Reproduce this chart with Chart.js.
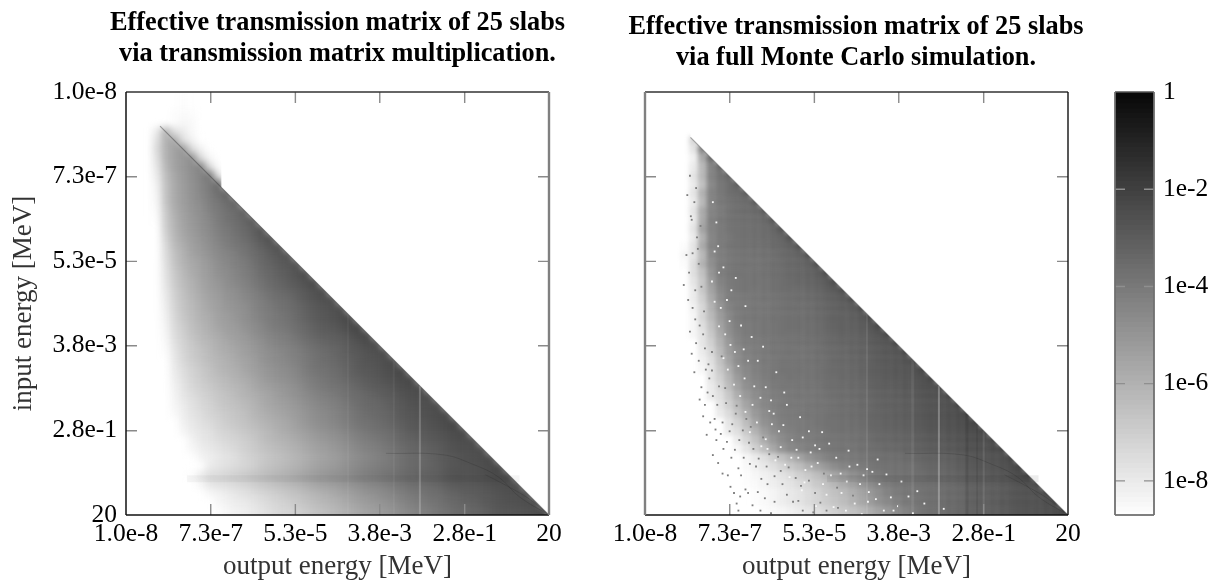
<!DOCTYPE html>
<html><head><meta charset="utf-8">
<style>html,body{margin:0;padding:0;background:#fff;width:1216px;height:583px;overflow:hidden}canvas{position:absolute;top:0}</style>
<script src="https://cdn.jsdelivr.net/npm/chart.js@4"></script>
</head><body>
<canvas id="cLeft" width="675" height="583" style="left:0;width:675px;height:583px"></canvas>
<canvas id="cRight" width="512" height="583" style="left:600px;width:512px;height:583px"></canvas>
<canvas id="cBar" width="116" height="583" style="left:1100px;width:116px;height:583px"></canvas>
<script>
const energyTicks=[1e-8,7.3e-7,5.3e-5,3.8e-3,2.8e-1,20];
const energyTickLabels=["1.0e-8","7.3e-7","5.3e-5","3.8e-3","2.8e-1","20"];
const titleLeft=["Effective transmission matrix of 25 slabs","via transmission matrix multiplication."];
const titleRight=["Effective transmission matrix of 25 slabs","via full Monte Carlo simulation."];
const colorbarTicks=[1,1e-2,1e-4,1e-6,1e-8];
const colorbarTickLabels=["1","1e-2","1e-4","1e-6","1e-8"];
const colorbarLevels=[0,1,2,3,4,5,6,7,8,9,10,11,12,13,14,15,16,17,18,19,20,21,22,23,24,25,26,27,28,29,30,31,32,33,34,35,36,37,38,39,40,41,42,43,44,45,46,47,48,49,50,51,52,53,54,55,56,57,58,59,60,61,62,63,64,65,66,67,68,69,70,71,72,73,74,75,76,77,78,79,80,81,82,83,84,85,86];
// cell values are -10*log10(T); rows run from the lowest input energy down, first column index in *RowStart
const leftRowStart=[5,5,5,5,3,3,3,3,3,3,3,3,3,3,3,3,3,3,3,4,4,4,4,4,4,4,4,4,4,4,4,4,5,5,5,5,5,6,6,7,7,8,9,7,8,9,9,10];
const leftRows=[
[85,84,85],[85,84,85],[84,83,84],[84,82,83,86],
[78,58,74,78,83],[74,58,54,74,80,85],[72,58,52,48,72,80,86],[74,58,52,48,44,72,82],
[76,60,52,48,44,40,72,84],[78,62,54,49,45,41,36,76],[80,64,55,50,46,42,38,32],[81,64,55,50,46,42,38,34,28],
[82,64,55,50,46,43,39,36,32,28],[83,66,56,51,47,44,40,37,34,31,27],[84,67,58,52,48,45,42,38,35,32,29,25],
[85,68,59,53,49,46,43,40,37,34,31,28,24],[85,70,60,54,50,47,44,41,38,35,32,29,26,23],
[86,72,61,56,51,48,45,42,39,36,34,31,28,25,22],[86,73,63,57,52,49,46,43,41,38,35,32,30,27,24,22],
[74,64,58,54,51,48,45,42,39,37,34,31,29,26,24,22],[75,66,60,55,52,49,46,44,41,38,36,33,31,28,26,23,21],
[76,67,61,57,53,50,48,45,42,40,37,35,32,30,27,25,23,21],[77,68,62,58,54,51,49,46,44,41,39,36,34,31,29,27,25,23,21],
[78,69,63,59,55,52,50,47,45,42,40,38,35,33,31,28,26,24,22,20],[79,70,64,60,56,53,51,48,46,44,41,39,37,34,32,30,28,26,24,22,20],
[80,71,65,61,57,55,52,50,47,45,42,40,38,36,34,31,29,27,25,23,21,20],[81,72,67,62,59,56,53,51,49,46,44,42,39,37,35,33,31,29,27,25,23,21,20],
[82,73,68,63,60,57,55,52,50,48,45,43,41,39,37,34,32,30,28,27,25,23,21,20],[83,74,69,65,61,59,56,54,51,49,47,45,42,40,38,36,34,32,30,28,27,25,23,21,20],
[84,76,70,66,63,60,57,55,53,50,48,46,44,42,40,38,36,34,32,30,28,26,25,23,21,20],[85,77,71,67,64,61,59,57,54,52,50,47,45,43,41,39,37,35,33,31,29,28,26,24,23,21,20],
[86,78,73,69,66,63,60,58,56,53,51,49,47,45,43,41,38,36,35,33,31,29,27,26,24,22,21,20],[79,74,70,67,64,62,60,57,55,53,50,48,46,44,42,40,38,36,34,32,30,29,27,25,23,22,21,20],
[80,75,71,68,66,63,61,59,57,54,52,50,48,46,44,41,39,37,35,34,32,30,28,26,25,23,22,21,20],[81,76,73,70,67,65,63,60,58,56,54,52,49,47,45,43,41,39,37,35,33,32,30,28,26,25,23,22,21,20],
[82,78,74,71,69,66,64,62,60,58,55,53,51,49,47,45,43,41,39,37,35,33,31,30,28,26,25,23,22,21,20],[83,79,75,73,70,68,66,64,62,59,57,55,53,51,49,47,45,43,41,39,37,35,33,31,30,28,26,25,23,22,21,20],
[80,77,74,72,70,67,65,63,61,59,57,55,53,50,48,46,44,42,40,38,36,35,33,31,29,28,26,25,23,22,21,20],[82,78,76,74,71,69,67,65,63,61,59,56,54,52,50,48,46,44,42,40,38,36,34,33,31,29,27,26,24,23,22,21,20],
[80,77,75,73,71,69,67,65,62,60,58,56,54,52,50,48,46,44,42,40,38,36,34,32,30,29,27,25,24,23,22,21,20],[82,79,77,75,73,71,68,66,64,62,60,58,56,54,52,50,48,46,44,42,40,38,36,34,32,30,29,27,26,24,23,22,21,20],
[81,79,77,75,73,70,68,66,64,62,60,58,56,54,52,50,48,46,44,42,40,38,36,34,32,31,29,27,26,25,23,22,21,20],[78,76,74,72,70,68,65,63,61,59,57,55,53,51,49,47,45,43,41,39,37,36,34,32,31,29,28,26,25,24,23,22,21,20],
[84,78,73,72,70,68,66,64,62,60,58,56,54,52,50,48,46,45,43,41,39,37,35,34,32,31,29,28,27,25,24,24,23,22,21,21,20],[82,76,74,73,71,69,67,65,63,61,59,57,55,53,51,49,47,46,44,42,40,38,36,35,33,32,30,29,27,26,25,24,23,22,22,21,20],
[82,80,78,76,74,72,70,68,66,64,62,60,58,56,54,52,50,48,46,44,42,40,38,36,35,33,32,30,29,27,26,25,24,23,22,21,20],[85,82,80,78,77,75,73,71,69,67,65,63,61,59,57,55,53,51,49,47,45,43,41,39,37,35,34,32,31,29,28,26,25,24,23,22,21,20],
[84,82,80,79,77,75,73,71,70,68,66,64,62,60,58,56,54,52,50,48,46,44,42,40,38,36,35,33,32,30,29,27,26,25,24,23,22,21]];
const rightFirstRow=5;
const rightRowStart=[5,5,5,5,5,5,5,5,5,5,5,5,4,4,4,5,5,5,5,5,5,5,5,6,6,6,6,7,7,7,8,8,9,9,10,10,11,11,11,10,10,11,12];
const rightRows=[
[74],[78,52],[82,62,42],[80,66,50,40],[78,66,50,44,38],[80,68,52,46,42,36],[78,64,50,46,42,40,34],[80,66,50,46,44,42,40,32],
[78,62,50,47,44,42,40,38,32],[80,62,49,46,44,43,42,40,38,30],[78,60,50,47,45,44,43,41,40,37,29],[80,64,51,47,46,44,43,42,40,39,36,28],
[86,78,62,50,47,45,44,43,42,41,39,38,35,27],[84,78,66,52,48,46,45,44,43,42,41,39,37,34,26],[86,76,64,54,48,46,45,44,44,43,41,40,38,36,33,25],
[76,68,56,48,46,45,45,44,43,42,41,39,37,35,32,25],[78,70,58,50,47,46,45,44,44,43,42,40,38,36,34,31,24],[80,70,60,52,48,46,45,45,44,43,42,41,40,38,36,33,30,24],
[80,72,62,54,48,47,46,45,44,44,43,42,40,39,37,35,33,30,23],[82,74,64,56,50,47,46,45,45,44,43,42,41,40,38,36,34,32,29,23],[84,74,66,58,52,48,46,45,45,44,44,43,42,40,39,37,35,34,32,29,22],
[84,76,68,60,54,49,47,46,45,45,44,43,42,41,40,38,36,34,33,31,28,22],[84,78,70,62,55,50,47,46,45,45,44,44,43,41,40,39,37,35,34,32,30,27,22],
[78,72,64,57,51,48,47,46,45,45,44,43,42,41,39,38,36,34,33,31,29,27,21],[80,74,66,58,53,49,47,46,45,45,44,44,43,41,40,39,37,35,33,32,30,28,26,21],
[82,76,68,60,54,50,48,46,46,45,45,44,43,42,41,39,38,36,34,33,31,29,27,25,21],[84,78,70,63,56,52,49,47,46,45,45,44,44,43,41,40,39,37,35,33,32,30,28,27,25,21],
[78,72,65,58,53,50,48,46,46,45,45,44,43,42,41,39,38,36,34,33,31,29,28,26,24,21],[80,74,67,60,55,51,49,47,46,46,45,44,44,42,41,40,38,37,35,33,32,30,28,27,25,24,21],
[80,76,70,63,57,53,50,48,47,46,45,45,44,43,42,40,39,37,36,34,33,31,29,28,26,25,23,20],
[78,72,66,60,55,51,49,47,46,46,45,44,44,43,41,40,38,37,35,33,32,30,29,27,26,24,23,20],[80,75,69,63,57,53,50,48,47,46,45,45,44,43,42,40,39,37,36,34,32,31,29,28,26,25,23,22,20],
[78,73,67,60,55,52,49,48,47,46,45,44,44,43,41,40,38,37,35,33,32,30,29,27,26,24,23,22,20],[80,76,70,64,58,54,51,49,47,46,46,45,44,43,42,41,39,38,36,34,33,31,30,28,27,25,24,23,22,20],
[80,74,68,62,57,53,50,48,47,46,45,45,44,43,41,40,38,37,35,34,32,31,29,28,26,25,24,23,22,20],[84,78,72,67,61,56,52,50,48,47,46,45,44,44,42,41,40,38,37,35,33,32,30,29,27,26,25,24,23,21,20],
[84,80,76,72,68,64,60,56,53,50,48,47,46,45,44,43,42,41,39,38,36,35,33,32,30,29,27,26,25,23,20],
[85,82,79,76,73,70,67,63,60,57,54,51,49,47,46,45,44,43,42,41,39,37,36,34,32,31,29,27,26,24,22,20],
[86,84,82,80,77,75,72,70,67,64,61,58,55,52,49,47,45,44,43,42,41,39,38,36,35,33,32,30,28,27,25,22,20],
[87,86,85,83,81,79,77,75,73,70,68,65,62,59,56,53,50,47,45,44,43,42,41,39,38,36,34,33,31,30,28,27,25,23,21],
[87,87,86,85,83,81,79,77,75,73,70,68,66,63,60,57,54,50,47,45,44,43,41,40,38,37,35,33,32,30,29,27,26,25,23,21,20],
[87,86,85,83,81,79,77,75,73,71,69,67,64,61,58,55,52,49,46,45,43,42,40,38,37,35,33,32,30,28,27,26,25,24,22,21],
[87,86,85,84,82,80,78,76,74,72,70,68,66,63,60,57,53,50,47,45,43,41,39,38,36,35,33,32,30,29,27,26,25,23,22,21]];
const mcGraySpecks=[[4.6,9],[5.1,12],[4.8,14],[5.4,16],[4.2,18],[4.5,20],[5.6,19],[5.2,22],[4.9,24],[5.7,26],[5.3,28],[6.1,27],[5.6,30],[6.4,31],[5.9,33],[6.8,32],[7.2,34],[6.3,35],[7.7,35],[6.9,37],[8.3,37],[7.6,39],[9.1,38],[8.4,40],[10.2,39],[9.3,41],[10.7,41],[11.8,40],[8.9,43],[10.4,43],[12.1,42],[13.3,42],[9.6,45],[11.2,45],[13.4,44],[15.1,44],[10.1,47],[12.6,47],[14.2,46],[16.3,46],[17.4,47],[18.8,45],[20.1,47],[14.9,42.5],[16.6,43.3],[11.5,37.5],[9.8,36],[12.9,38.7],[7.1,29],[8.2,29.5],
[4.3,11.2],[4.7,13.6],[5.3,10.4],[5.8,14.7],[5.5,17.3],[4.9,17.8],[3.9,21.4],[4.4,23.1],[5.9,21.6],[5.2,25.3],[4.6,26.7],[6.2,24.4],[4.8,29.2],[6.3,28.6],[5.1,31.3],[7.1,31.1],[5.7,34.4],[6.6,33.6],[7.9,32.9],[6.1,36.3],[7.4,36.6],[8.7,34.8],[6.5,38.4],[8.1,38.3],[9.4,37.2],[7.2,40.7],[8.8,39.2],[10.6,37.9],[7.8,41.6],[9.7,40.1],[11.3,39.3],[12.4,41.1],[8.3,42.8],[10.1,42.2],[11.4,41.7],[13.6,40.6],[14.2,43.1],[9.2,44.3],[10.9,44.6],[12.7,43.4],[15.8,42.1],[17.2,44.2],[9.9,46.2],[11.7,46.4],[13.1,45.6],[15.6,45.2],[18.1,43.6],[19.4,46.1],[21.3,44.4],[11.1,47.6],[13.8,47.3],[15.4,47.6],[18.6,47.2],[21.4,46.7],[23.1,45.3],[16.9,45.9],[19.8,42.8],[14.6,40.9],[12.3,44.9],[10.3,45.4],[7.5,37.8],[6.7,30.4],[8.6,33.1],[9.9,35.1],[11,36.6]];
const mcWhiteSpecks=[[7.2,12],[7.8,17],[7.1,21],[8.1,24],[9.3,22],[8.6,27],[9.7,29],[10.4,26],[8.9,31],[10.8,32],[12.3,30],[10.3,34],[11.7,35],[13.2,33],[12.2,37],[14.1,36],[15.6,35],[14.7,38],[16.2,39],[13.4,40],[18.1,38],[16.9,41],[19.3,40],[21.2,41],[18.4,42],[20.6,43],[22.7,42],[24.3,43],[19.7,44],[21.8,45],[23.9,44],[26.1,44],[27.4,45.5],[22.3,47],[24.8,46],[26.6,47],[28.2,46.5],[29.9,47.3],[25.3,42.6],[17.3,44.7],[15.4,41.8],[11.2,30],[9.1,25.5],[7.9,20],[13.8,34.5],
[7.6,14.3],[8.4,19.4],[7.4,23.3],[9.8,20.6],[7.9,26.1],[10.9,23.8],[9.2,28.2],[11.6,27.3],[8.4,29.7],[10.1,30.6],[12.9,28.4],[9.6,32.7],[11.9,32.9],[14.4,31.3],[10.9,35.8],[13.6,35.7],[15.3,33.6],[11.4,38.1],[13.2,38.9],[15.2,37.3],[17.1,36.4],[12.7,39.7],[14.9,39.8],[17.4,38.7],[19.6,38.1],[14.3,41.3],[16.1,41],[18.3,40.4],[20.4,39.4],[22.6,40.2],[15.9,43.2],[17.7,42.4],[19.1,41.6],[21.7,42.8],[23.6,41.8],[25.9,41.2],[17.6,43.8],[20.1,45.2],[22.4,43.7],[24.9,44.9],[26.9,42.9],[28.6,43.7],[18.9,46.5],[20.9,46.6],[23.3,46.2],[25.7,45.7],[27.7,47],[29.4,45.4],[31.2,46.2],[19.2,47.7],[21.6,47.8],[24.1,47.4],[28.9,47.8],[31.8,47.6],[33.4,46.8],[16.7,40.1],[12.6,34.2],[10.7,28.7],[8.8,23.1],[7.4,17.6],[13.9,37.2],[18.8,39.6],[24.7,42.3],[30.4,44.8]];
// MeV positions of the thin features
const leftStripes=[[2.9e-2,"rgba(255,255,255,0.2)",2],[7.6e-4,"rgba(255,255,255,0.04)",2],[7.7e-3,"rgba(255,255,255,0.05)",2]];
const rightStripes=[[2.9e-2,"rgba(255,255,255,0.28)",2],[7.7e-3,"rgba(255,255,255,0.08)",3],[7.6e-4,"rgba(255,255,255,0.08)",2],[0.12,"rgba(0,0,0,0.1)",3],[0.2,"rgba(0,0,0,0.08)",2],[0.28,"rgba(255,255,255,0.1)",2]];
const curveA=[{x:5.2e-3,y:0.88},{x:9.5e-2,y:0.95},{x:0.42,y:1.53},{x:1.53,y:2.9},{x:4.5,y:8},{x:20,y:20}];
const curveB=[{x:0.8,y:2.6},{x:2.3,y:4.5},{x:6.9,y:8.5},{x:20,y:20}];
const leftBand=[{x:2.2e-7,y:3.2},{x:4.5,y:3.2}];
const rightBand=[{x:1e-4,y:3.2},{x:4.5,y:3.2}];
const leftApex=5.6e-8, rightApex=1e-7;
const leftSmearCorner=1.25e-6;

const E_MIN=1e-8,E_MAX=20,GRID=48;
const edge=i=>E_MIN*Math.pow(E_MAX/E_MIN,(i+0.5)/GRID);
const gray=v=>{const g=Math.min(255,Math.round(8+247*v/87));return `rgb(${g},${g},${g})`;};
const calLeft=v=>v+2;
const calRight=v=>v<=55?(v<=22?v+2:v+2-Math.min(9,(v-22)*0.4)):(v>=77?v:v-7*(77-v)/22);
function cells(rows,starts,first,cal){const out=[];rows.forEach((r,i)=>{r.forEach((v,k)=>{out.push({x:edge(starts[i]+k),y:edge(first+i),v:cal(v)});});});return out;}
const specks=list=>list.map(p=>({x:edge(p[0]),y:edge(p[1])}));
const SERIF='"Liberation Serif","DejaVu Serif",serif';

function framePlugin(leftCol,rightCol){return{id:'frame',afterDraw(c){
 const {left:l,right:r,top:t,bottom:b}=c.chartArea,ctx=c.ctx,xs=c.scales.x,ys=c.scales.y;ctx.save();
 ctx.strokeStyle='#8a8a8a';ctx.lineWidth=1.4;ctx.beginPath();
 energyTicks.slice(1,5).forEach(v=>{const p=xs.getPixelForValue(v),q=ys.getPixelForValue(v);
  ctx.moveTo(p,t);ctx.lineTo(p,t+11);ctx.moveTo(p,b);ctx.lineTo(p,b-11);ctx.moveTo(l,q);ctx.lineTo(l+11,q);ctx.moveTo(r,q);ctx.lineTo(r-11,q);});
 ctx.stroke();
 const seg=(x1,y1,x2,y2,col,w)=>{ctx.strokeStyle=col;ctx.lineWidth=w;ctx.beginPath();ctx.moveTo(x1,y1);ctx.lineTo(x2,y2);ctx.stroke();};
 seg(l,t,r,t,'#333',1.3);seg(l,b,r,b,'#111',1.5);seg(l,t,l,b,leftCol[0],leftCol[1]);seg(r,t,r,b,rightCol[0],rightCol[1]);
 ctx.restore();}};}
// softens the rendered cells and trims them along the output=input diagonal
function softenPlugin(corner,sigma){return{id:'soften',
 afterDatasetDraw(c,a){if(c.data.datasets[a.index].label!=='cells')return;
  const X=c.scales.x,Y=c.scales.y,ctx=c.ctx,A=c.chartArea,w=Math.round(A.width),h=Math.round(A.height),pad=24;
  const tmp=document.createElement('canvas');tmp.width=w+2*pad;tmp.height=h+2*pad;const t=tmp.getContext('2d');
  t.drawImage(c.canvas,A.left,A.top,w,h,pad,pad,w,h);
  t.drawImage(c.canvas,A.left,A.bottom-1,w,1,pad,pad+h,w,pad);
  ctx.clearRect(A.left,A.top,w,h);
  ctx.save();ctx.beginPath();
  ctx.moveTo(X.getPixelForValue(E_MIN),Y.getPixelForValue(E_MIN));
  ctx.lineTo(X.getPixelForValue(corner),Y.getPixelForValue(E_MIN));
  ctx.lineTo(X.getPixelForValue(corner),Y.getPixelForValue(corner));
  ctx.lineTo(X.getPixelForValue(E_MAX),Y.getPixelForValue(E_MAX));
  ctx.lineTo(X.getPixelForValue(E_MIN),Y.getPixelForValue(E_MAX));
  ctx.closePath();ctx.clip();
  ctx.filter=`blur(${sigma}px)`;ctx.drawImage(tmp,A.left-pad,A.top-pad);ctx.filter='none';ctx.restore();}};}
const lineDs=(data,color,width,order,tension=0)=>({type:'scatter',showLine:true,data,borderColor:color,borderWidth:width,pointRadius:0,order,fill:false,label:'line',tension});
const dotDs=(data,color,order)=>({type:'scatter',data,order,label:'speck',pointStyle:'rect',pointRadius:1.3,pointBorderWidth:0,borderWidth:0,pointBackgroundColor:color});
function panel(id,cfg){
 const stripes=cfg.stripes.map(s=>lineDs([{x:s[0],y:s[0]},{x:s[0],y:E_MAX}],s[1],s[2],2));
 return new Chart(document.getElementById(id),{type:'scatter',
  data:{datasets:[
   {label:'cells',data:cfg.cells,order:10,pointStyle:'rect',pointRadius:6.4,pointHoverRadius:6.4,pointBorderWidth:0,borderWidth:0,
    pointBackgroundColor:c=>gray(c.raw.v)},
   ...cfg.extra,
   ...stripes,
   lineDs(cfg.band,cfg.bandColor,7,3),
   lineDs(curveA,'rgba(30,30,30,0.2)',1,1,0.4),
   lineDs(curveB,'rgba(30,30,30,0.2)',1,1,0.4),
   lineDs([{x:cfg.apex,y:cfg.apex},{x:E_MAX,y:E_MAX}],'rgba(40,40,40,0.4)',1.1,1)
  ]},
  plugins:[softenPlugin(cfg.corner,cfg.sigma),framePlugin(cfg.leftEdge,cfg.rightEdge)],
  options:{responsive:false,animation:false,events:[],
   plugins:{legend:{display:false},tooltip:{enabled:false},
    title:{display:true,text:cfg.title,color:'#000',font:{family:SERIF,size:26.3,weight:'bold',lineHeight:1.2},padding:{top:cfg.titleTop,bottom:92-63.12-cfg.titleTop}}},
   scales:{
    x:{type:'logarithmic',min:E_MIN,max:E_MAX,border:{display:false},grid:{display:false,drawTicks:false},
     afterBuildTicks:s=>{s.ticks=energyTicks.map(v=>({value:v}));},
     afterFit:s=>{s.height=68;},
     ticks:{autoSkip:false,maxRotation:0,minRotation:0,color:'#000',padding:4,font:{family:SERIF,size:25.5},
      callback:(v)=>energyTickLabels[energyTicks.indexOf(v)]},
     title:{display:true,text:'output energy [MeV]',color:'#333',font:{family:SERIF,size:27},padding:0}},
    y:{type:'logarithmic',reverse:true,min:E_MIN,max:E_MAX,border:{display:false},grid:{display:false,drawTicks:false},
     afterBuildTicks:s=>{s.ticks=energyTicks.map(v=>({value:v}));},
     afterFit:s=>{s.width=cfg.yWidth;},
     ticks:{display:cfg.yLabels,autoSkip:false,color:'#000',padding:9,font:{family:SERIF,size:25.5},
      callback:(v)=>energyTickLabels[energyTicks.indexOf(v)]},
     title:{display:cfg.yLabels,text:'input energy [MeV]',color:'#333',font:{family:SERIF,size:27},padding:{top:8,bottom:0}}},
    spacer:{type:'linear',position:'right',display:true,border:{display:false},grid:{display:false,drawTicks:false},ticks:{display:false},afterFit:s=>{s.width=cfg.padRight;}}
   }}});
}
panel('cLeft',{cells:cells(leftRows,leftRowStart,0,calLeft),extra:[],stripes:leftStripes,band:leftBand,bandColor:'rgba(0,0,0,0.04)',apex:leftApex,corner:leftSmearCorner,sigma:3.5,title:titleLeft,titleTop:7,padRight:126,yWidth:126,yLabels:true,leftEdge:['#111',1.5],rightEdge:['#808080',2.4]});
panel('cRight',{cells:cells(rightRows,rightRowStart,rightFirstRow,calRight),extra:[dotDs(specks(mcGraySpecks),'rgb(125,125,125)',5),dotDs(specks(mcWhiteSpecks),'rgb(248,248,248)',5)],stripes:rightStripes,band:rightBand,bandColor:'rgba(0,0,0,0.07)',apex:rightApex,corner:rightApex,sigma:2,title:titleRight,titleTop:11,padRight:44,yWidth:45,yLabels:false,leftEdge:['#808080',2.4],rightEdge:['#111',1.4]});

const FLOOR=8.7;
new Chart(document.getElementById('cBar'),{type:'bar',
 data:{labels:[''],datasets:colorbarLevels.map(v=>({data:[[Math.max(Math.pow(10,-(v+1.25)/10),Math.pow(10,-FLOOR)),Math.pow(10,-v/10)]],backgroundColor:gray(v+0.5),borderWidth:0,borderSkipped:false,grouped:false,barPercentage:1,categoryPercentage:1}))},
 plugins:[{id:'cbFrame',afterDraw(c){const {left:l,right:r,top:t,bottom:b}=c.chartArea,ctx=c.ctx,Y=c.scales.y;ctx.save();
  ctx.strokeStyle='#8f8f8f';ctx.lineWidth=1.3;ctx.beginPath();
  colorbarTicks.slice(1).forEach(v=>{const q=Y.getPixelForValue(v);ctx.moveTo(l,q);ctx.lineTo(l+10,q);ctx.moveTo(r,q);ctx.lineTo(r-10,q);});ctx.stroke();
  const seg=(a,b1,c1,d,col,w)=>{ctx.strokeStyle=col;ctx.lineWidth=w;ctx.beginPath();ctx.moveTo(a,b1);ctx.lineTo(c1,d);ctx.stroke();};
  seg(l,t,r,t,'#555',1.3);seg(l,b,r,b,'#555',1.5);seg(l,t,l,b,'#707070',1.8);seg(r,t,r,b,'#707070',1.8);ctx.restore();}}],
 options:{responsive:false,animation:false,events:[],layout:{padding:{left:15,right:0,top:92,bottom:68}},
  plugins:{legend:{display:false},tooltip:{enabled:false},title:{display:false}},
  scales:{x:{display:false,grid:{display:false},stacked:false},
   y:{type:'logarithmic',position:'right',min:Math.pow(10,-FLOOR),max:1,border:{display:false},grid:{display:false,drawTicks:false},
    afterBuildTicks:s=>{s.ticks=colorbarTicks.map(v=>({value:v}));},
    afterFit:s=>{s.width=62;},
    ticks:{autoSkip:false,color:'#000',padding:9,font:{family:SERIF,size:25.5},callback:v=>colorbarTickLabels[colorbarTicks.indexOf(v)]}}}}});
</script>
</body></html>
